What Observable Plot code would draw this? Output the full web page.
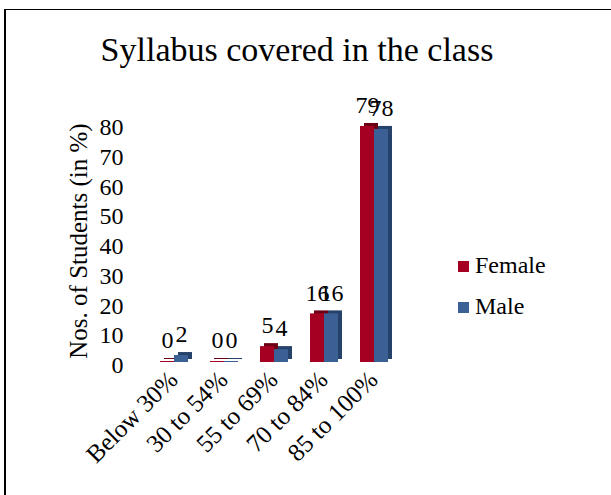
<!DOCTYPE html>
<html>
<head>
<meta charset="utf-8">
<script src="https://cdn.jsdelivr.net/npm/d3@7"></script>
<script src="https://cdn.jsdelivr.net/npm/@observablehq/plot@0.6"></script>
<style>
  html, body { margin: 0; padding: 0; background: #fff; }
  #wrap { position: relative; width: 611px; height: 495px; overflow: hidden; font-family: "Liberation Serif", "Times New Roman", serif; }
  #frameTop { position: absolute; left: 4px; top: 9px; width: 607px; height: 0; border-top: 1.5px solid #000; }
  #frameLeft { position: absolute; left: 4px; top: 9px; width: 0; height: 486px; border-left: 2px solid #000; }
  #title { position: absolute; left: 0; width: 594px; top: 31px; text-align: center; font-size: 34px; line-height: 38px; color: #000; }
  .leg { position: absolute; left: 458px; font-size: 24px; line-height: 24px; color: #000; }
  .leg span { position: absolute; left: 0; width: 11px; height: 11px; }
  .leg b { font-weight: normal; position: absolute; left: 17px; top: -8px; white-space: nowrap; }
  #ylab { position: absolute; left: 79px; top: 241px; transform: translate(-50%, -50%) rotate(-90deg); font-size: 25px; line-height: 26px; white-space: nowrap; color: #000; }
  #chart { position: absolute; left: 0; top: 0; }
</style>
</head>
<body>
<div id="wrap">
  <div id="chart"></div>
  <div id="frameTop"></div>
  <div id="frameLeft"></div>
  <div id="title">Syllabus covered in the class</div>
  <div id="ylab">Nos. of Students (in %)</div>
  <div class="leg" style="top:261px"><span style="background:#A50021"></span><b>Female</b></div>
  <div class="leg" style="top:302px"><span style="background:#3A6095"></span><b>Male</b></div>
</div>
<script>
const categories = ["Below 30%", "30 to 54%", "55 to 69%", "70 to 84%", "85 to 100%"];
const series = ["Female", "Male"];
const female = [0, 0, 5, 16, 79];
const male = [2, 0, 4, 16, 78];
const yTicks = [0, 10, 20, 30, 40, 50, 60, 70, 80];

const colors = {Female: "#A50021", Male: "#3A6095"};
const dark = {Female: "#6E0016", Male: "#26416A"};

const data = [];
categories.forEach((c, i) => {
  data.push({cat: c, sex: "Female", v: female[i]});
  data.push({cat: c, sex: "Male", v: male[i]});
});

const chart = Plot.plot({
  width: 611,
  height: 495,
  marginLeft: 138,
  marginRight: 201,
  marginTop: 124,
  marginBottom: 133,
  style: {fontFamily: "'Liberation Serif', 'Times New Roman', serif", color: "#000", background: "transparent"},
  fx: {domain: categories, paddingInner: 0.44, paddingOuter: 0.44, axis: null},
  x: {domain: series, padding: 0, axis: null},
  y: {domain: [0, 80], axis: null},
  marks: [
    Plot.axisY({ticks: yTicks, tickSize: 0, tickPadding: 37, fontSize: 24, dy: 3, label: null}),
    Plot.axisFx({anchor: "bottom", tickRotate: -45, tickSize: 0, tickPadding: 13, fontSize: 25, dx: -1, label: null}),
    Plot.barY(data, {fx: "cat", x: "sex", y: "v", fill: d => dark[d.sex], dx: 4, dy: -3, insetTop: -1}),
    Plot.barY(data, {fx: "cat", x: "sex", y: "v", fill: d => colors[d.sex], insetTop: -1}),
    Plot.text(data, {fx: "cat", x: "sex", y: "v", text: d => String(d.v), dy: -22, fontSize: 24, fill: "#000"})
  ]
});
document.getElementById("chart").appendChild(chart);
</script>
</body>
</html>
